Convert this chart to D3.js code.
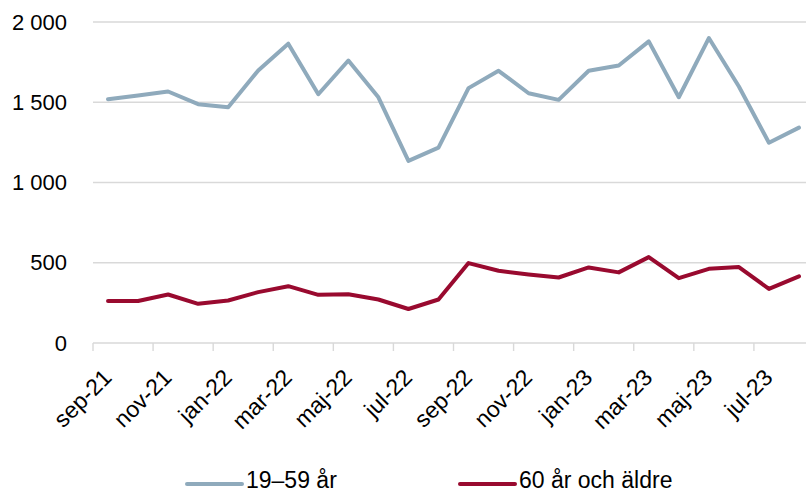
<!DOCTYPE html>
<html>
<head>
<meta charset="utf-8">
<script src="https://cdn.jsdelivr.net/npm/d3@7"></script>
<style>
  body { margin: 0; background: #fff; }
  svg { display: block; font-family: "Liberation Sans", Arial, sans-serif; }
</style>
</head>
<body>
<svg id="chart" width="806" height="492"></svg>
<script>
// Data
const months = ["sep-21","okt-21","nov-21","dec-21","jan-22","feb-22","mar-22","apr-22","maj-22","jun-22","jul-22","aug-22",
                "sep-22","okt-22","nov-22","dec-22","jan-23","feb-23","mar-23","apr-23","maj-23","jun-23","jul-23","aug-23"];
const young = [1519,1542,1567,1488,1469,1698,1865,1550,1760,1531,1135,1217,
               1588,1696,1556,1515,1696,1729,1879,1531,1900,1598,1248,1342];
const old = [262,262,302,244,265,317,354,300,304,271,212,271,
             498,450,427,408,471,440,535,404,462,473,337,415];
const yTicks = [0, 500, 1000, 1500, 2000];
const seriesNames = ["19\u201359 år", "60 år och äldre"];
const colors = ["#8FAABC", "#990A2F"];

const svg = d3.select("#chart");

// scales (the plot runs a bit past the right edge, as in the original)
const x = d3.scaleBand().domain(months).range([93, 814]);
const y = d3.scaleLinear().domain([0, 2000]).range([343, 22]);
const fmt = v => d3.format(",")(v).replace(/,/g, " ");

// gridlines
svg.append("g").selectAll("line")
  .data(yTicks)
  .enter().append("line")
    .attr("x1", 93).attr("x2", 814)
    .attr("y1", d => y(d)).attr("y2", d => y(d))
    .attr("stroke", "#d9d9d9").attr("stroke-width", 1.4);

// y labels
svg.append("g").selectAll("text")
  .data(yTicks)
  .enter().append("text")
    .attr("x", 67).attr("y", d => y(d))
    .attr("dy", "0.35em")
    .attr("text-anchor", "end")
    .attr("font-size", 22)
    .attr("fill", "#000")
    .text(fmt);

// x ticks: between categories, every second
const tickIdx = d3.range(0, months.length + 1, 2);
svg.append("g").selectAll("line")
  .data(tickIdx)
  .enter().append("line")
    .attr("x1", i => 93 + i * x.bandwidth()).attr("x2", i => 93 + i * x.bandwidth())
    .attr("y1", 343).attr("y2", 351)
    .attr("stroke", "#d9d9d9").attr("stroke-width", 1.4);

// x labels
svg.append("g").selectAll("text")
  .data(months.filter((m, i) => i % 2 === 0))
  .enter().append("text")
    .attr("transform", d => `translate(${x(d) + x.bandwidth() / 2 + 5},${379}) rotate(-45)`)
    .attr("text-anchor", "end")
    .attr("font-size", 23)
    .attr("fill", "#000")
    .text(d => d);

// lines
const line = d3.line()
  .x((d, i) => x(months[i]) + x.bandwidth() / 2)
  .y(d => y(d));

[young, old].forEach((s, k) => {
  svg.append("path")
    .datum(s)
    .attr("fill", "none")
    .attr("stroke", colors[k])
    .attr("stroke-width", 4)
    .attr("stroke-linejoin", "round")
    .attr("stroke-linecap", "round")
    .attr("d", line);
});

// legend
const legendX = [187, 460];
seriesNames.forEach((name, k) => {
  const g = svg.append("g").attr("transform", `translate(${legendX[k]},484)`);
  g.append("line")
    .attr("x1", 0).attr("x2", 55)
    .attr("stroke", colors[k]).attr("stroke-width", 4)
    .attr("stroke-linecap", "round");
  g.append("text")
    .attr("x", 59).attr("y", 4)
    .attr("font-size", 23)
    .attr("fill", "#000")
    .text(name);
});
</script>
</body>
</html>
